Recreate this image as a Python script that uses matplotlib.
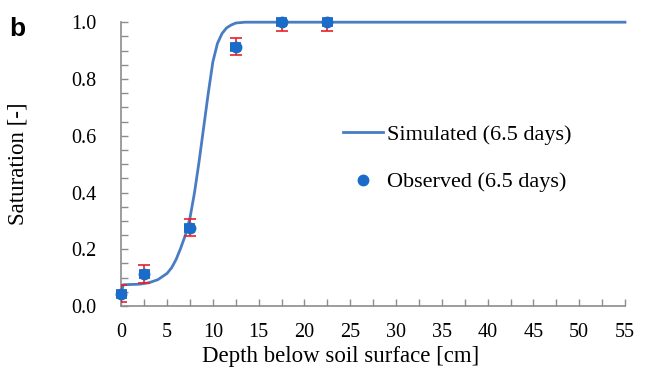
import matplotlib.pyplot as plt
from matplotlib.ticker import MultipleLocator

# 数据
sim_x = [0, 0.2, 1, 2, 3, 4, 5, 5.5, 6, 6.5, 7, 7.5, 8, 8.5, 9, 9.5,
         10, 10.5, 11, 11.5, 12, 12.5, 13.5, 55]
sim_y = [0.04, 0.075, 0.076, 0.077, 0.082, 0.093, 0.115, 0.135, 0.165,
         0.205, 0.25, 0.31, 0.40, 0.51, 0.63, 0.75, 0.86, 0.925, 0.96,
         0.98, 0.99, 0.997, 1.0, 1.0]
obs_x = [0, 2.5, 7.5, 12.5, 17.5, 22.5]
obs_y = [0.043, 0.113, 0.276, 0.913, 1.0, 1.0]
obs_err = [0.03, 0.03, 0.03, 0.03, 0.03, 0.03]

plt.rcParams['font.family'] = ['Liberation Serif', 'DejaVu Serif']

fig = plt.figure(figsize=(6.45, 3.76), dpi=100)
ax = fig.add_axes([0.188, 0.186, 0.781, 0.755])

ax.plot(sim_x, sim_y, color='#4a7cc4', lw=2, label='Simulated (6.5 days)', clip_on=False, zorder=3)
ax.errorbar(obs_x, obs_y, yerr=obs_err, fmt='none', ecolor='#e8202a', elinewidth=1.2,
            capsize=4, capthick=1.2, zorder=4)
ax.errorbar(obs_x, obs_y, xerr=0.6, fmt='none', ecolor='#1a6cc8', elinewidth=7,
            clip_on=False, zorder=5)
ax.plot(obs_x, obs_y, 'o', color='#1a6cc8', ms=7.5, label='Observed (6.5 days)', clip_on=False, zorder=6)

ax.set_xlim(0, 55)
ax.set_ylim(0, 1.0)
ax.xaxis.set_major_locator(MultipleLocator(5))
ax.xaxis.set_minor_locator(MultipleLocator(2.5))
ax.yaxis.set_major_locator(MultipleLocator(0.2))
ax.yaxis.set_minor_locator(MultipleLocator(0.05))
ax.yaxis.set_major_formatter(plt.FormatStrFormatter('%.1f'))

for s in ['top', 'right']:
    ax.spines[s].set_visible(False)
for s in ['left', 'bottom']:
    ax.spines[s].set_color('#8c8c8c')
    ax.spines[s].set_linewidth(1.2)
ax.tick_params(which='both', direction='in', length=5, color='#8c8c8c', width=1,
               labelsize=14.5)
ax.tick_params(axis='x', pad=12)
ax.tick_params(axis='y', pad=18)

ax.set_xlabel('Depth below soil surface [cm]', fontsize=16.5, labelpad=3)
ax.xaxis.set_label_coords(0.436, -0.14)
ax.set_ylabel('Saturation [-]', fontsize=16.5)
ax.yaxis.set_label_coords(-0.185, 0.5)

ax.legend(loc='center left', bbox_to_anchor=(0.40, 0.52), frameon=False, fontsize=16,
          handlelength=1.8, labelspacing=1.2, handletextpad=0.2)

fig.text(0.015, 0.905, 'b', fontsize=19, fontweight='bold', family='Liberation Sans')

plt.savefig('out.png')
